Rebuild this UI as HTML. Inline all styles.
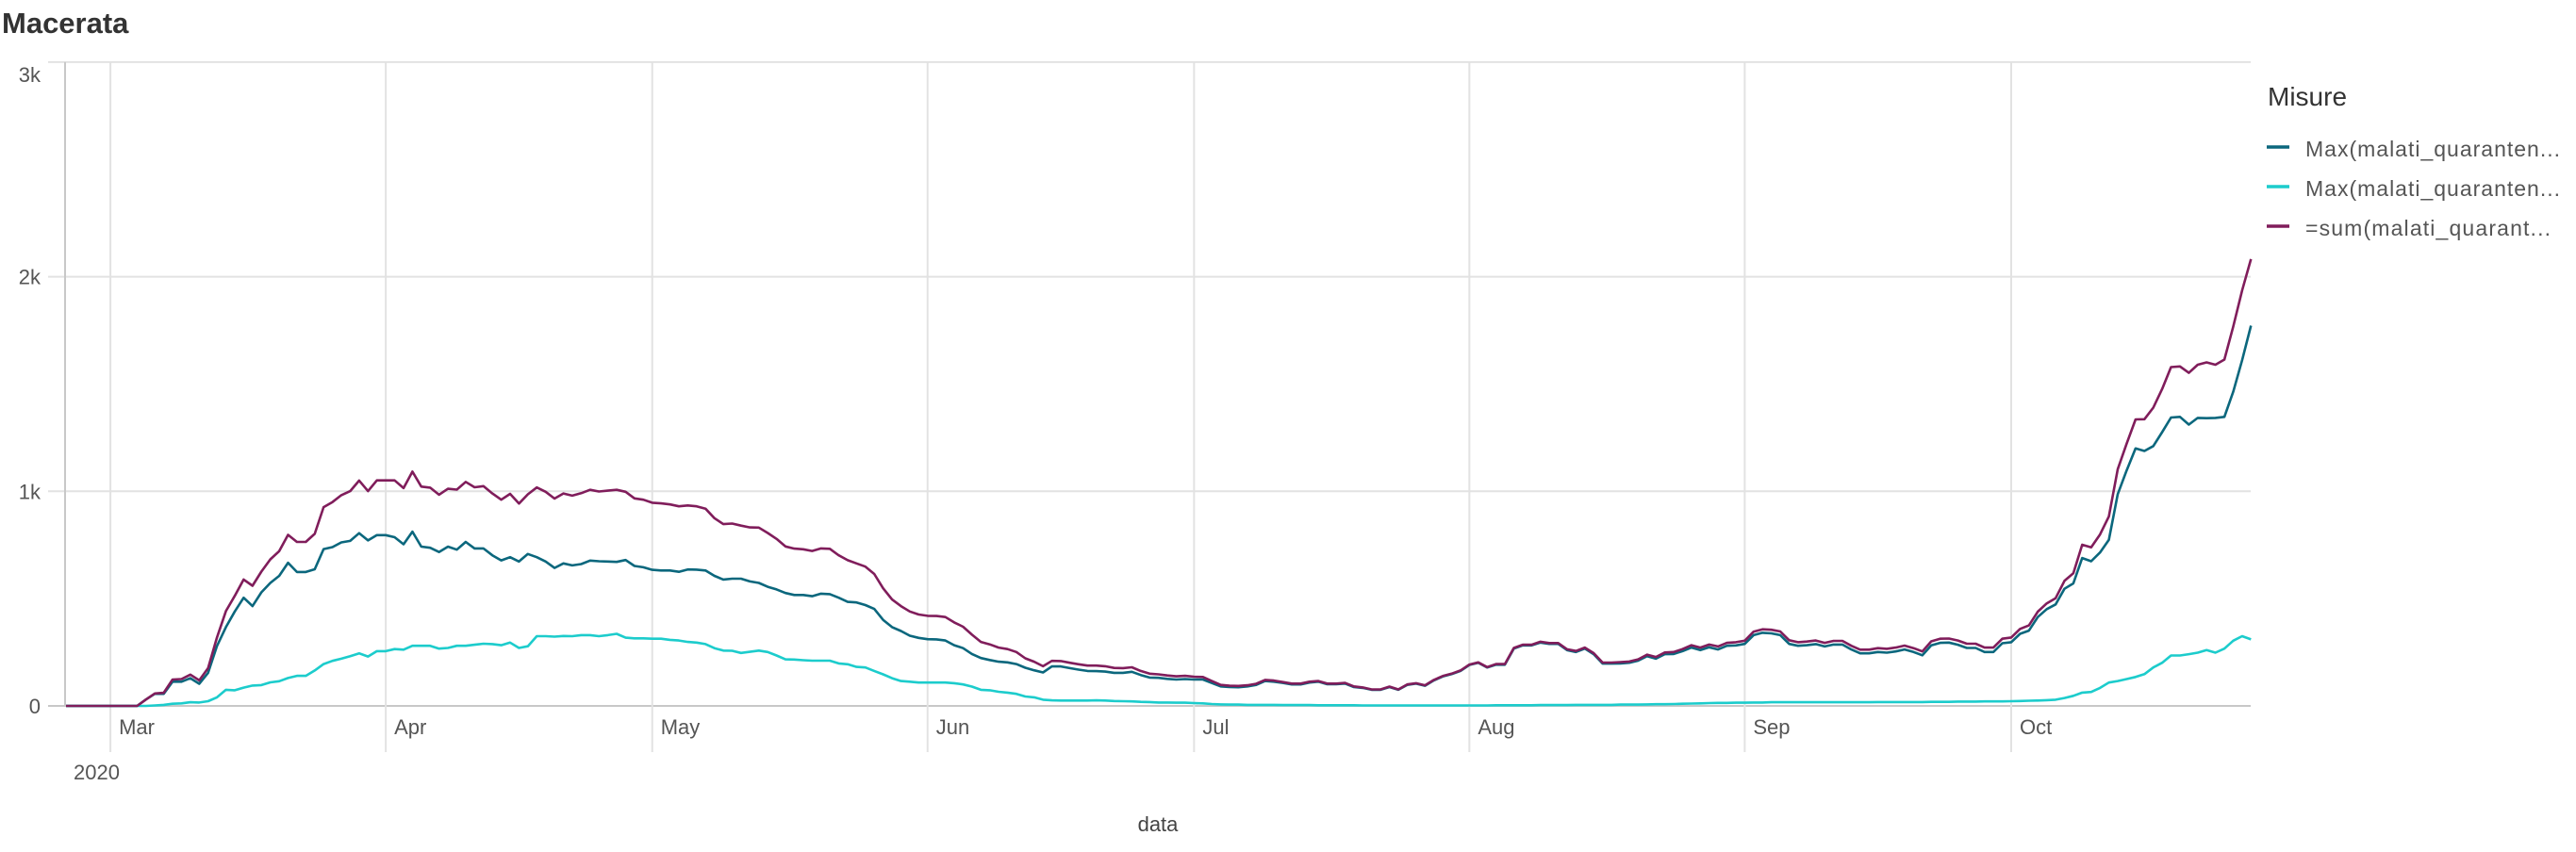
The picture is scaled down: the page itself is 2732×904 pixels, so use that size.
<!DOCTYPE html>
<html><head><meta charset="utf-8"><style>
html,body{margin:0;padding:0;background:#fff;}
svg{display:block;font-family:"Liberation Sans",sans-serif;}
</style></head><body>
<svg id="chart" width="2732" height="904" viewBox="0 0 2732 904" xmlns="http://www.w3.org/2000/svg">
<text x="2" y="35" font-size="31" font-weight="bold" fill="#333">Macerata</text>
<g id="grid"></g>
<g id="series"></g>
<text x="1228" y="882" font-size="22" fill="#444" text-anchor="middle">data</text>
<g>
<text x="2405" y="112" font-size="28" fill="#333">Misure</text>
<g><line x1="2404" x2="2428" y1="156" y2="156" stroke="#0b677d" stroke-width="3.5"/><text x="2445" y="166" font-size="23" fill="#555" textLength="270">Max(malati_quaranten...</text></g>
<g><line x1="2404" x2="2428" y1="198" y2="198" stroke="#1ccccc" stroke-width="3.5"/><text x="2445" y="208" font-size="23" fill="#555" textLength="270">Max(malati_quaranten...</text></g>
<g><line x1="2404" x2="2428" y1="240" y2="240" stroke="#801d5b" stroke-width="3.5"/><text x="2445" y="250" font-size="23" fill="#555" textLength="260">=sum(malati_quarant...</text></g>
</g>
</svg>
<script>
const yTicks = [0, 1000, 2000, 3000];
const yTickLabels = ["0", "1k", "2k", "3k"];
const monthIdx = [5, 36, 66, 97, 127, 158, 189, 219];
const monthLabels = ["Mar", "Apr", "May", "Jun", "Jul", "Aug", "Sep", "Oct"];
const darkSeries = [0,0,0,0,0,0,0,0,0,30,
56,56,113,113,129,103,154,279,367,440,504,465,529,573,606,667,624,624,637,731,740,762,769,805,771,796,796,786,753,812,742,737,717,742,728,764,734,734,702,678,693,673,708,693,673,643,664,655,661,677,674,673,671,680,652,646,634,
631,631,625,636,635,631,606,589,593,593,580,573,555,543,526,517,517,511,523,521,504,485,482,470,452,401,367,349,327,317,311,310,305,283,269,242,223,214,206,203,195,178,166,156,184,184,176,169,163,162,160,154,154,159,144,132,131,126,123,125,123,123,107,91,
88,87,91,98,116,113,107,100,100,109,113,101,101,104,88,84,75,75,88,75,98,104,94,119,137,148,163,191,201,179,192,192,267,282,282,295,289,289,260,251,267,241,197,197,198,201,211,232,220,241,242,255,272,260,273,263,280,282,289,330,341,338,330,289,280,283,288,277,
286,286,263,245,245,251,248,254,263,251,236,282,294,295,285,270,270,251,251,292,297,336,351,414,451,473,546,571,689,674,715,774,987,1097,1200,1188,1211,1276,1344,1347,1311,1342,1341,1342,1347,1464,1611,1772];
const cyanSeries = [0,0,0,0,0,0,0,0,0,0,
2,5,10,12,17,16,22,40,75,73,85,95,97,110,115,130,140,140,165,195,210,220,232,245,230,255,255,265,262,280,280,280,267,270,280,280,285,290,288,283,295,270,278,325,325,323,326,325,330,330,325,330,336,318,315,315,313,
313,308,305,298,295,288,269,258,257,247,252,258,251,235,217,216,213,211,211,211,198,194,182,179,163,147,129,116,113,109,109,109,109,106,100,90,75,73,66,62,56,44,40,29,26,25,25,25,25,26,25,23,22,21,19,18,16,16,15,15,13,12,9,7,
6,6,5,5,5,5,4,4,4,4,3,3,3,3,3,2,2,2,2,2,2,2,2,2,2,2,2,2,2,2,3,3,3,3,3,4,4,4,4,5,5,5,5,5,6,6,6,7,8,8,9,10,11,12,13,14,14,15,15,16,16,17,17,17,17,17,17,17,
17,17,17,17,17,18,18,18,18,18,18,19,19,19,20,20,20,21,21,21,22,23,24,25,27,29,37,47,62,65,84,109,116,125,135,148,179,201,235,235,241,248,260,248,267,304,325,310];
const sumSeries = [0,0,0,0,0,0,0,0,0,30,
58,61,123,125,146,119,176,319,442,513,589,560,626,683,721,797,764,764,802,926,950,982,1001,1050,1001,1051,1051,1051,1015,1092,1022,1017,984,1012,1008,1044,1019,1024,990,961,988,943,986,1018,998,966,990,980,991,1007,999,1003,1007,998,967,961,947,
944,939,930,934,930,919,875,847,850,840,832,831,806,778,743,733,730,722,734,732,702,679,664,649,615,548,496,465,440,426,420,419,414,389,369,332,298,287,272,265,251,222,206,185,210,209,201,194,188,188,185,177,176,180,163,150,147,142,138,140,136,135,116,98,
94,93,96,103,121,118,111,104,104,113,116,104,104,107,91,86,77,77,90,77,100,106,96,121,139,150,165,193,203,181,195,195,270,285,285,299,293,293,264,256,272,246,202,202,204,207,217,239,228,249,251,265,283,272,286,277,294,297,304,346,357,355,347,306,297,300,305,294,
303,303,280,262,262,269,266,272,281,269,254,301,313,314,305,290,290,272,272,313,319,359,375,439,478,502,583,618,751,739,799,883,1103,1222,1335,1336,1390,1477,1579,1582,1552,1590,1601,1590,1614,1768,1936,2082];

const NS = "http://www.w3.org/2000/svg";
const X0 = 70, DX = 9.42, Y0 = 749, PER = 0.2277, LEFT = 69, RIGHT = 2387;
function xScale(i){ return X0 + i*DX; }
function yScale(v){ return Y0 - v*PER; }
function mk(tag, attrs, parent){ const e=document.createElementNS(NS,tag); for(const k in attrs) e.setAttribute(k,attrs[k]); parent.appendChild(e); return e; }

const grid = document.getElementById('grid');
yTicks.forEach((t,k)=>{
  const y = yScale(t);
  const gl = mk('line',{x1:51,x2:RIGHT,y1:y,y2:y,stroke: t===0?'#c8c8c8':'#e2e2e2','stroke-width':2},grid);
  
  
  const ty = k===yTicks.length-1 ? y+21 : y+8;
  const tl = mk('text',{x:43,y:ty,'font-size':22,fill:'#555','text-anchor':'end'},grid);
  tl.textContent = yTickLabels[k];
  
  
});
monthIdx.forEach((m,k)=>{
  const x = xScale(m);
  const gl = mk('line',{x1:x,x2:x,y1:yScale(3000),y2:798,stroke:'#e2e2e2','stroke-width':2},grid);
  
  
  const tl = mk('text',{x:x+9,y:779,'font-size':22,fill:'#555'},grid);
  tl.textContent = monthLabels[k];
  
  
});
const yr = mk('text',{x:78,y:827,'font-size':22,fill:'#555'},grid);
yr.textContent = '2020';


const ax = mk('line',{x1:LEFT,x2:LEFT,y1:yScale(3000),y2:Y0,stroke:'#c8c8c8','stroke-width':2},grid);



const seriesG = document.getElementById('series');
function drawLine(vals, color, name){
  const d = vals.map((v,i)=>(i?'L':'M')+xScale(i).toFixed(1)+','+yScale(v).toFixed(1)).join('');
  const p = mk('path',{d:d,fill:'none',stroke:color,'stroke-width':2.6,'stroke-linejoin':'round'},seriesG);
  
  
}
drawLine(cyanSeries,'#1ccccc','line-max-2');
drawLine(darkSeries,'#0b677d','line-max-1');
drawLine(sumSeries,'#801d5b','line-sum');
</script>
</body></html>
